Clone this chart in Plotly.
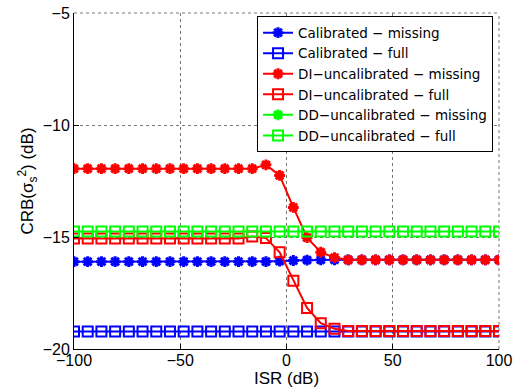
import numpy as np
import plotly.graph_objects as go

isr = np.linspace(-100, 100, 32)

cal_missing = [-16.1]*15 + [-16.08, -16.05, -16.03, -16.02, -16.02] + [-16.02]*12
cal_full = [-19.22]*32
di_missing = [-11.95]*14 + [-11.78, -12.25, -13.68, -15.03, -15.68, -15.92] + [-16.02]*12
di_full = [-15.07]*13 + [-14.98, -15.05, -15.68, -16.95, -18.17, -18.85, -19.1] + [-19.2]*12
dd_missing = [-3.0]*32
dd_full = [-14.75]*32

names = ["Calibrated \u2212 missing", "Calibrated \u2212 full",
         "DI\u2212uncalibrated \u2212 missing", "DI\u2212uncalibrated \u2212 full",
         "DD\u2212uncalibrated \u2212 missing", "DD\u2212uncalibrated \u2212 full"]
colors = ["#0000ff", "#0000ff", "#ff0000", "#ff0000", "#00ff00", "#00ff00"]
symbols = ["asterisk-open", "square-open"] * 3
series = [cal_missing, cal_full, di_missing, di_full, dd_missing, dd_full]

fig = go.Figure()
for n, c, s, y in zip(names, colors, symbols, series):
    fig.add_trace(go.Scatter(
        x=isr, y=y, name=n, mode="lines+markers",
        line=dict(color=c, width=2),
        marker=dict(symbol=s, size=10 if s.startswith("square") else 9,
                    color=c, line=dict(color=c, width=3 if s.startswith("asterisk") else 2)),
    ))

font = "Liberation Sans, Arial, Helvetica, sans-serif"
grid_style = dict(color="#777777", width=1, dash="dot")
fig.update_layout(
    width=517, height=389,
    margin=dict(l=74, r=18, t=13, b=40),
    paper_bgcolor="white", plot_bgcolor="white",
    font=dict(family=font, size=15, color="black"),
    showlegend=True,
    legend=dict(x=0.986, y=0.99, xanchor="right", yanchor="top",
                bgcolor="white", bordercolor="black", borderwidth=1,
                font=dict(size=13.5, family="DejaVu Sans, Liberation Sans, sans-serif"),
                tracegroupgap=0, itemwidth=30),
    shapes=[
        dict(type="line", xref="paper", yref="paper", x0=0, x1=1, y0=1, y1=1,
             line=grid_style, layer="below"),
        dict(type="line", xref="paper", yref="paper", x0=1, x1=1, y0=0, y1=1,
             line=grid_style, layer="below"),
    ],
)
fig.update_xaxes(
    range=[-100, 100], tickvals=[-100, -50, 0, 50, 100],
    showgrid=True, gridcolor="#777777", griddash="dot", gridwidth=1,
    showline=True, linecolor="black", linewidth=1, mirror=False,
    ticks="inside", ticklen=5, tickcolor="black",
    zeroline=False, automargin=False, ticklabeloverflow="allow",
    ticklabelstandoff=-3,
    title=dict(text="ISR (dB)", standoff=0, font=dict(size=17)),
    tickfont=dict(size=16),
)
fig.update_yaxes(
    range=[-20, -5], tickvals=[-20, -15, -10, -5],
    showgrid=True, gridcolor="#777777", griddash="dot", gridwidth=1,
    showline=True, linecolor="black", linewidth=1, mirror=False,
    ticks="inside", ticklen=5, tickcolor="black",
    zeroline=False, automargin=False, ticklabeloverflow="allow",
    title=dict(text="CRB(σ<sub>s</sub><sup>2</sup>) (dB)", standoff=4, font=dict(size=17)),
    tickfont=dict(size=16),
)
fig.write_html("out.html", config={"displayModeBar": False},
               post_script="document.body.style.margin='0';document.body.style.overflow='hidden';")
